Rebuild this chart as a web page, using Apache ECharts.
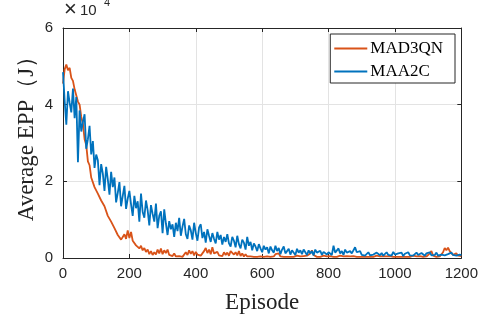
<!DOCTYPE html>
<html>
<head>
<meta charset="utf-8">
<script src="https://cdn.jsdelivr.net/npm/echarts@6/dist/echarts.min.js"></script>
<style>
  html, body { margin: 0; padding: 0; background: #fff; }
  #chart { width: 481px; height: 320px; }
</style>
</head>
<body>
<div id="chart"></div>
<script>
// episode step between stored points
var step = 5
var xTicks = [0, 200, 400, 600, 800, 1000, 1200]
var yTicks = [0, 2, 4, 6]
// average EPP, units of 1e4 J, one value every 5 episodes (0..1200)
var mad3qn = [
  4.55, 4.92, 5.05, 4.90, 4.96, 4.70, 4.62, 4.40, 4.35, 4.08,
  4.00, 3.68, 3.50, 3.10, 2.95, 2.52, 2.42, 2.10, 2.08, 1.85,
  1.88, 1.68, 1.70, 1.50, 1.52, 1.35, 1.30, 1.10, 1.12, 0.95,
  0.92, 0.78, 0.74, 0.60, 0.58, 0.48, 0.55, 0.62, 0.50, 0.72,
  0.52, 0.68, 0.45, 0.42, 0.33, 0.36, 0.25, 0.32, 0.20, 0.26,
  0.16, 0.22, 0.10, 0.18, 0.08, 0.15, 0.09, 0.22, 0.12, 0.25,
  0.10, 0.20, 0.13, 0.22, 0.08, 0.10, 0.05, 0.12, 0.04, 0.09,
  0.05, 0.08, 0.03, 0.07, 0.15, 0.08, 0.20, 0.11, 0.18, 0.07,
  0.16, 0.09, 0.14, 0.06, 0.12, 0.18, 0.26, 0.13, 0.22, 0.10,
  0.28, 0.12, 0.09, 0.16, 0.07, 0.12, 0.05, 0.15, 0.08, 0.14,
  0.06, 0.18, 0.22, 0.09, 0.15, 0.07, 0.18, 0.05, 0.12, 0.04,
  0.10, 0.04, 0.08, 0.04, 0.09, 0.03, 0.06, 0.03, 0.05, 0.04,
  0.06, 0.03, 0.05, 0.04, 0.08, 0.03, 0.06, 0.04, 0.10, 0.05,
  0.12, 0.04, 0.07, 0.03, 0.05, 0.03, 0.04, 0.03, 0.05, 0.03,
  0.04, 0.06, 0.03, 0.04, 0.03, 0.05, 0.04, 0.06, 0.08, 0.12,
  0.20, 0.08, 0.04, 0.03, 0.05, 0.03, 0.04, 0.06, 0.03, 0.04,
  0.03, 0.05, 0.04, 0.03, 0.05, 0.03, 0.04, 0.06, 0.03, 0.04,
  0.03, 0.05, 0.03, 0.04, 0.03, 0.05, 0.04, 0.03, 0.06, 0.03,
  0.04, 0.03, 0.05, 0.03, 0.04, 0.03, 0.05, 0.03, 0.04, 0.06,
  0.03, 0.04, 0.03, 0.05, 0.03, 0.04, 0.03, 0.05, 0.04, 0.03,
  0.05, 0.03, 0.04, 0.03, 0.06, 0.03, 0.04, 0.03, 0.05, 0.03,
  0.04, 0.06, 0.03, 0.04, 0.03, 0.05, 0.04, 0.03, 0.06, 0.04,
  0.08, 0.12, 0.18, 0.06, 0.04, 0.03, 0.05, 0.04, 0.08, 0.15,
  0.26, 0.20, 0.27, 0.18, 0.22, 0.08, 0.05, 0.12, 0.06, 0.04,
  0.05
]
var maa2c = [
  4.85, 4.10, 3.48, 4.35, 4.05, 3.80, 4.42, 3.65, 4.20, 2.50,
  3.85, 3.30, 3.55, 3.75, 2.85, 3.10, 3.45, 2.70, 3.05, 2.35,
  2.70, 2.55, 1.90, 2.45, 2.20, 1.75, 2.38, 2.05, 1.65, 2.25,
  1.85, 2.10, 1.45, 1.70, 1.98, 1.35, 1.62, 1.88, 1.28, 1.55,
  1.75, 1.40, 1.10, 1.62, 1.30, 1.48, 0.95, 1.68, 1.20, 1.05,
  1.50, 1.25, 0.85, 1.38, 1.15, 0.95, 1.42, 0.78, 1.10, 1.22,
  0.65, 1.27, 0.90, 0.60, 0.96, 0.75, 0.88, 0.55, 0.92, 0.70,
  1.05, 0.58, 0.82, 1.02, 0.62, 0.50, 0.85, 0.72, 0.48, 0.92,
  0.65, 0.45, 0.80, 0.88, 0.52, 0.68, 0.40, 0.75, 0.58, 0.42,
  0.65, 0.50, 0.38, 0.68, 0.48, 0.60, 0.35, 0.55, 0.42, 0.62,
  0.38, 0.30, 0.55, 0.45, 0.28, 0.58, 0.36, 0.25, 0.48, 0.40,
  0.22, 0.55, 0.32, 0.42, 0.20, 0.38, 0.30, 0.18, 0.36, 0.25,
  0.15, 0.32, 0.22, 0.28, 0.12, 0.30, 0.20, 0.14, 0.32, 0.18,
  0.26, 0.10, 0.22, 0.30, 0.12, 0.18, 0.24, 0.09, 0.20, 0.16,
  0.08, 0.24, 0.14, 0.20, 0.10, 0.22, 0.15, 0.08, 0.20, 0.12,
  0.18, 0.07, 0.22, 0.14, 0.10, 0.19, 0.08, 0.16, 0.21, 0.09,
  0.15, 0.20, 0.08, 0.32, 0.14, 0.10, 0.25, 0.12, 0.18, 0.08,
  0.22, 0.14, 0.09, 0.18, 0.12, 0.07, 0.28, 0.15, 0.10, 0.18,
  0.08, 0.13, 0.06, 0.11, 0.15, 0.07, 0.12, 0.09, 0.05, 0.14,
  0.10, 0.07, 0.13, 0.06, 0.11, 0.15, 0.08, 0.12, 0.06, 0.16,
  0.09, 0.06, 0.12, 0.08, 0.14, 0.05, 0.11, 0.09, 0.15, 0.07,
  0.12, 0.06, 0.10, 0.14, 0.08, 0.05, 0.13, 0.09, 0.06, 0.12,
  0.10, 0.15, 0.07, 0.12, 0.08, 0.14, 0.06, 0.11, 0.09, 0.13,
  0.07, 0.12, 0.10, 0.05, 0.14, 0.08, 0.12, 0.06, 0.11, 0.09,
  0.07
]

function pairs(arr) {
  var out = []
  for (var i = 0; i < arr.length; i++) {
    out.push([i * step, arr[i]])
  }
  return out
}

var chart = echarts.init(document.getElementById('chart'))
var axisColor = '#262626'
var serif = '"Liberation Serif", "DejaVu Serif", serif'
var sans = '"Liberation Sans", Arial, sans-serif'

var option = {
  animation: false,
  backgroundColor: '#fff',
  grid: { left: 63, right: 18, top: 28, bottom: 62 },
  legend: {
    orient: 'vertical',
    right: 26,
    top: 34,
    padding: [6, 12, 3, 4],
    itemGap: 6,
    itemWidth: 33,
    itemHeight: 2,
    icon: 'rect',
    borderColor: axisColor,
    borderWidth: 1,
    borderRadius: 0,
    backgroundColor: '#fff',
    textStyle: { fontFamily: serif, fontSize: 17, lineHeight: 17, color: '#000', padding: [0, 0, 0, -2] },
    data: ['MAD3QN', 'MAA2C']
  },
  xAxis: [{
    type: 'value',
    min: 0,
    max: 1200,
    interval: 200,
    name: 'Episode',
    nameLocation: 'middle',
    nameGap: 33,
    nameTextStyle: { fontFamily: serif, fontSize: 23, color: '#222' },
    axisLine: { show: true, lineStyle: { color: axisColor } },
    axisTick: { show: true, inside: true, length: 4, lineStyle: { color: axisColor } },
    axisLabel: {
      fontFamily: sans, fontSize: 15, color: '#262626', margin: 8,
      formatter: function (v) { return xTicks.indexOf(v) >= 0 ? String(v) : '' }
    },
    splitLine: { show: true, lineStyle: { color: '#e3e3e3' } }
  }, {
    type: 'value', position: 'top', min: 0, max: 1200, interval: 200,
    axisLine: { show: true, onZero: false, lineStyle: { color: axisColor } },
    axisTick: { show: true, inside: true, length: 4, lineStyle: { color: axisColor } },
    axisLabel: { show: false },
    splitLine: { show: false }
  }],
  yAxis: [{
    type: 'value',
    min: 0,
    max: 6,
    interval: 2,
    axisLine: { show: true, lineStyle: { color: axisColor } },
    axisTick: { show: true, inside: true, length: 4, lineStyle: { color: axisColor } },
    axisLabel: {
      fontFamily: sans, fontSize: 15, color: '#262626', margin: 10,
      formatter: function (v) { return yTicks.indexOf(v) >= 0 ? String(v) : '' }
    },
    splitLine: { show: true, lineStyle: { color: '#e3e3e3' } }
  }, {
    type: 'value', position: 'right', min: 0, max: 6, interval: 2,
    axisLine: { show: true, onZero: false, lineStyle: { color: axisColor } },
    axisTick: { show: true, inside: true, length: 4, lineStyle: { color: axisColor } },
    axisLabel: { show: false },
    splitLine: { show: false }
  }],
  graphic: [
    {
      type: 'text', x: 27, y: 133, rotation: Math.PI / 2,
      style: { text: 'Average EPP（J）', fontFamily: serif, fontSize: 23, fill: '#222', align: 'center', verticalAlign: 'middle' }
    },
    { type: 'text', left: 64, top: -1, style: { text: '×', fontFamily: sans, fontSize: 22, fill: '#262626' } },
    { type: 'text', left: 80, top: 3, style: { text: '10', fontFamily: sans, fontSize: 15, fill: '#262626' } },
    { type: 'text', left: 104, top: -3, style: { text: '4', fontFamily: sans, fontSize: 11, fill: '#262626' } }
  ],
  series: [{
    name: 'MAD3QN',
    type: 'line',
    symbol: 'none',
    color: '#D95319',
    lineStyle: { width: 1.8, color: '#D95319' },
    data: pairs(mad3qn)
  }, {
    name: 'MAA2C',
    type: 'line',
    symbol: 'none',
    color: '#0072BD',
    lineStyle: { width: 1.8, color: '#0072BD' },
    data: pairs(maa2c)
  }]
}
chart.setOption(option)
window.addEventListener('resize', function () {
  chart.resize()
})
</script>
</body>
</html>
